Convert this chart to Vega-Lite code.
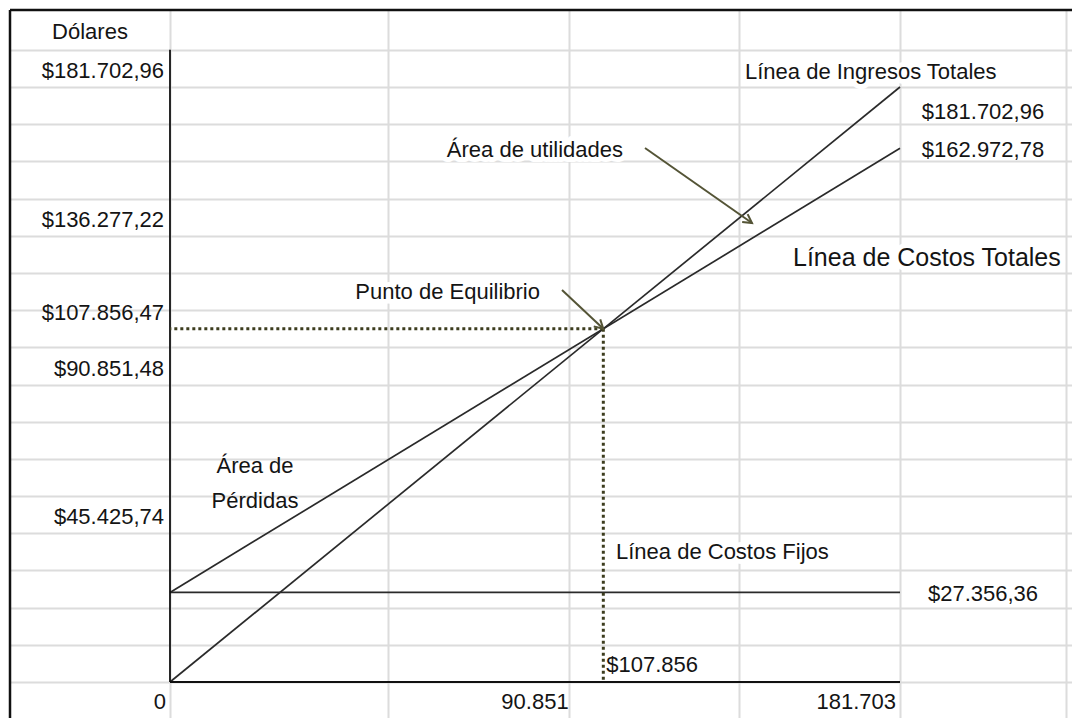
{
  "$schema": "https://vega.github.io/schema/vega-lite/v6.json",
  "width": 1062,
  "height": 708,
  "autosize": {"type": "none"},
  "padding": {"left": 10, "top": 10, "right": 0, "bottom": 0},
  "background": "white",
  "config": {
    "view": {"stroke": null},
    "locale": {"number": {"decimal": ",", "thousands": ".", "grouping": [3], "currency": ["$", ""]}},
    "axis": {"labels": false, "ticks": false, "domain": false, "titleFontSize": 0, "titlePadding": 0, "gridColor": "#dcdcdc", "gridWidth": 2},
    "text": {"font": "Liberation Sans", "fontSize": 22, "color": "#141414"}
  },
  "data": {"name": "origen"},
  "datasets": {
    "origen": [{"ventas": 0, "dolares": 0}],
    "lineas": [
      {"serie": "Línea de Ingresos Totales", "ventas": 0, "dolares": 0},
      {"serie": "Línea de Ingresos Totales", "ventas": 181702.96, "dolares": 181702.96},
      {"serie": "Línea de Costos Totales", "ventas": 0, "dolares": 27356.36},
      {"serie": "Línea de Costos Totales", "ventas": 181702.96, "dolares": 162972.78},
      {"serie": "Línea de Costos Fijos", "ventas": 0, "dolares": 27356.36},
      {"serie": "Línea de Costos Fijos", "ventas": 181702.96, "dolares": 27356.36}
    ],
    "equilibrio": [{"ventas": 107856.47, "dolares": 107856.47}],
    "eje_y": [
      {"dolares": 181702.96},
      {"dolares": 136277.22},
      {"dolares": 107856.47},
      {"dolares": 90851.48},
      {"dolares": 45425.74}
    ],
    "eje_x": [{"ventas": 0}, {"ventas": 90851.48}, {"ventas": 181702.96}],
    "flechas": [
      {"texto": "Área de utilidades", "ventas": 118230, "dolares": 163075, "ventas_fin": 144863, "dolares_fin": 140171},
      {"texto": "Punto de Equilibrio", "ventas": 97572, "dolares": 119710, "ventas_fin": 107856.47, "dolares_fin": 107856.47}
    ],
    "notas": [
      {"texto": "Dólares", "ventas": -19913, "dolares": 198500},
      {"texto": ["Área de", "Pérdidas"], "ventas": 21157, "dolares": 65963}
    ]
  },
  "layer": [
    {
      "data": {"name": "lineas"},
      "mark": {"type": "line", "color": "#2a2a2a", "strokeWidth": 1.7},
      "encoding": {
        "x": {
          "field": "ventas", "type": "quantitative",
          "scale": {"domain": [-39825.5, 224515], "nice": false, "zero": false},
          "axis": {
            "grid": true, "title": null,
            "values": [0, 54262, 99314, 141629, 181702.96, 223021]
          }
        },
        "y": {
          "field": "dolares", "type": "quantitative",
          "scale": {"domain": [-10993, 205219], "nice": false, "zero": false},
          "axis": {
            "grid": true, "title": null,
            "values": [0, 11356.435, 22712.87, 34069.305, 45425.74, 56782.175, 68138.61, 79495.045, 90851.48, 102207.915, 113564.35, 124920.785, 136277.22, 147633.655, 158990.09, 170346.525, 181702.96, 193059.395]
          }
        },
        "detail": {"field": "serie", "type": "nominal"}
      }
    },
    {
      "mark": {"type": "rule", "color": "#111111", "strokeWidth": 2.5},
      "encoding": {"x": {"datum": -39825.5, "type": "quantitative"}}
    },
    {
      "mark": {"type": "rule", "color": "#111111", "strokeWidth": 2.5},
      "encoding": {"y": {"datum": 205219, "type": "quantitative"}}
    },
    {
      "mark": {"type": "rule", "color": "#111111", "strokeWidth": 1.8},
      "encoding": {
        "x": {"field": "ventas", "type": "quantitative"},
        "y": {"field": "dolares", "type": "quantitative"},
        "y2": {"datum": 193059.395}
      }
    },
    {
      "mark": {"type": "rule", "color": "#111111", "strokeWidth": 1.8},
      "encoding": {
        "x": {"field": "ventas", "type": "quantitative"},
        "x2": {"datum": 181702.96},
        "y": {"field": "dolares", "type": "quantitative"}
      }
    },
    {
      "data": {"name": "equilibrio"},
      "mark": {"type": "rule", "color": "#3d3d1f", "strokeWidth": 3, "strokeDash": [3, 3]},
      "encoding": {
        "x": {"field": "ventas", "type": "quantitative"},
        "x2": {"datum": 0},
        "y": {"field": "dolares", "type": "quantitative"}
      }
    },
    {
      "data": {"name": "equilibrio"},
      "mark": {"type": "rule", "color": "#3d3d1f", "strokeWidth": 3, "strokeDash": [3, 3]},
      "encoding": {
        "x": {"field": "ventas", "type": "quantitative"},
        "y": {"field": "dolares", "type": "quantitative"},
        "y2": {"datum": 0}
      }
    },
    {
      "data": {"name": "lineas"},
      "transform": [{"filter": "datum.ventas > 0 && datum.serie == 'Línea de Ingresos Totales'"}],
      "mark": {"type": "text", "align": "left", "dx": -155, "dy": -15, "color": "white", "stroke": "white", "strokeWidth": 10, "strokeJoin": "round"},
      "encoding": {
        "x": {"field": "ventas", "type": "quantitative"},
        "y": {"field": "dolares", "type": "quantitative"},
        "text": {"field": "serie", "type": "nominal"}
      }
    },
    {
      "data": {"name": "lineas"},
      "transform": [{"filter": "datum.ventas > 0 && datum.serie == 'Línea de Costos Totales'"}],
      "mark": {"type": "text", "align": "left", "dx": -107, "dy": 110, "fontSize": 25, "color": "white", "stroke": "white", "strokeWidth": 10, "strokeJoin": "round"},
      "encoding": {
        "x": {"field": "ventas", "type": "quantitative"},
        "y": {"field": "dolares", "type": "quantitative"},
        "text": {"field": "serie", "type": "nominal"}
      }
    },
    {
      "data": {"name": "lineas"},
      "transform": [{"filter": "datum.ventas > 0 && datum.serie == 'Línea de Costos Fijos'"}],
      "mark": {"type": "text", "align": "left", "dx": -284, "dy": -40, "color": "white", "stroke": "white", "strokeWidth": 10, "strokeJoin": "round"},
      "encoding": {
        "x": {"field": "ventas", "type": "quantitative"},
        "y": {"field": "dolares", "type": "quantitative"},
        "text": {"field": "serie", "type": "nominal"}
      }
    },
    {
      "data": {"name": "flechas"},
      "mark": {"type": "text", "align": "right", "dx": -22, "dy": 2, "color": "white", "stroke": "white", "strokeWidth": 10, "strokeJoin": "round"},
      "encoding": {
        "x": {"field": "ventas", "type": "quantitative"},
        "y": {"field": "dolares", "type": "quantitative"},
        "text": {"field": "texto", "type": "nominal"}
      }
    },
    {
      "data": {"name": "flechas"},
      "mark": {"type": "rule", "color": "#545436", "strokeWidth": 2},
      "encoding": {
        "x": {"field": "ventas", "type": "quantitative"},
        "x2": {"field": "ventas_fin"},
        "y": {"field": "dolares", "type": "quantitative"},
        "y2": {"field": "dolares_fin"}
      }
    },
    {
      "data": {"name": "flechas"},
      "transform": [{"filter": "datum.texto == 'Área de utilidades'"}],
      "mark": {"type": "point", "shape": "M -0.55 1 L 0 0 L 0.55 1", "filled": false, "size": 300, "strokeWidth": 2, "color": "#545436", "angle": 125, "opacity": 1},
      "encoding": {
        "x": {"field": "ventas_fin", "type": "quantitative"},
        "y": {"field": "dolares_fin", "type": "quantitative"}
      }
    },
    {
      "data": {"name": "flechas"},
      "transform": [{"filter": "datum.texto == 'Punto de Equilibrio'"}],
      "mark": {"type": "point", "shape": "M -0.55 1 L 0 0 L 0.55 1", "filled": false, "size": 300, "strokeWidth": 2, "color": "#545436", "angle": 133, "opacity": 1},
      "encoding": {
        "x": {"field": "ventas_fin", "type": "quantitative"},
        "y": {"field": "dolares_fin", "type": "quantitative"}
      }
    },
    {
      "data": {"name": "eje_y"},
      "mark": {"type": "text", "align": "right", "dx": -6, "dy": -16},
      "encoding": {
        "x": {"datum": 0, "type": "quantitative"},
        "y": {"field": "dolares", "type": "quantitative"},
        "text": {"field": "dolares", "type": "quantitative", "format": "$,.2f"}
      }
    },
    {
      "data": {"name": "eje_x"},
      "transform": [{"filter": "datum.ventas != 90851.48"}],
      "mark": {"type": "text", "align": "right", "dx": -4, "dy": 20},
      "encoding": {
        "x": {"field": "ventas", "type": "quantitative"},
        "y": {"datum": 0, "type": "quantitative"},
        "text": {"field": "ventas", "type": "quantitative", "format": ",.0f"}
      }
    },
    {
      "data": {"name": "eje_x"},
      "transform": [{"filter": "datum.ventas == 90851.48"}],
      "mark": {"type": "text", "align": "center", "dy": 20},
      "encoding": {
        "x": {"field": "ventas", "type": "quantitative"},
        "y": {"datum": 0, "type": "quantitative"},
        "text": {"field": "ventas", "type": "quantitative", "format": ",.0f"}
      }
    },
    {
      "data": {"name": "equilibrio"},
      "mark": {"type": "text", "align": "left", "dx": 3, "dy": -17},
      "encoding": {
        "x": {"field": "ventas", "type": "quantitative"},
        "y": {"datum": 0, "type": "quantitative"},
        "text": {"field": "ventas", "type": "quantitative", "format": "$,.0f"}
      }
    },
    {
      "data": {"name": "lineas"},
      "transform": [{"filter": "datum.ventas > 0 && datum.serie == 'Línea de Ingresos Totales'"}],
      "mark": {"type": "text", "align": "center", "dx": 83, "dy": 25},
      "encoding": {
        "x": {"field": "ventas", "type": "quantitative"},
        "y": {"field": "dolares", "type": "quantitative"},
        "text": {"field": "dolares", "type": "quantitative", "format": "$,.2f"}
      }
    },
    {
      "data": {"name": "lineas"},
      "transform": [{"filter": "datum.ventas > 0 && datum.serie != 'Línea de Ingresos Totales'"}],
      "mark": {"type": "text", "align": "center", "dx": 83, "dy": 2},
      "encoding": {
        "x": {"field": "ventas", "type": "quantitative"},
        "y": {"field": "dolares", "type": "quantitative"},
        "text": {"field": "dolares", "type": "quantitative", "format": "$,.2f"}
      }
    },
    {
      "data": {"name": "lineas"},
      "transform": [{"filter": "datum.ventas > 0 && datum.serie == 'Línea de Ingresos Totales'"}],
      "mark": {"type": "text", "align": "left", "dx": -155, "dy": -15},
      "encoding": {
        "x": {"field": "ventas", "type": "quantitative"},
        "y": {"field": "dolares", "type": "quantitative"},
        "text": {"field": "serie", "type": "nominal"}
      }
    },
    {
      "data": {"name": "lineas"},
      "transform": [{"filter": "datum.ventas > 0 && datum.serie == 'Línea de Costos Totales'"}],
      "mark": {"type": "text", "align": "left", "dx": -107, "dy": 110, "fontSize": 25},
      "encoding": {
        "x": {"field": "ventas", "type": "quantitative"},
        "y": {"field": "dolares", "type": "quantitative"},
        "text": {"field": "serie", "type": "nominal"}
      }
    },
    {
      "data": {"name": "lineas"},
      "transform": [{"filter": "datum.ventas > 0 && datum.serie == 'Línea de Costos Fijos'"}],
      "mark": {"type": "text", "align": "left", "dx": -284, "dy": -40},
      "encoding": {
        "x": {"field": "ventas", "type": "quantitative"},
        "y": {"field": "dolares", "type": "quantitative"},
        "text": {"field": "serie", "type": "nominal"}
      }
    },
    {
      "data": {"name": "flechas"},
      "mark": {"type": "text", "align": "right", "dx": -22, "dy": 2},
      "encoding": {
        "x": {"field": "ventas", "type": "quantitative"},
        "y": {"field": "dolares", "type": "quantitative"},
        "text": {"field": "texto", "type": "nominal"}
      }
    },
    {
      "data": {"name": "notas"},
      "mark": {"type": "text", "align": "center", "lineHeight": 35},
      "encoding": {
        "x": {"field": "ventas", "type": "quantitative"},
        "y": {"field": "dolares", "type": "quantitative"},
        "text": {"field": "texto", "type": "nominal"}
      }
    }
  ]
}
